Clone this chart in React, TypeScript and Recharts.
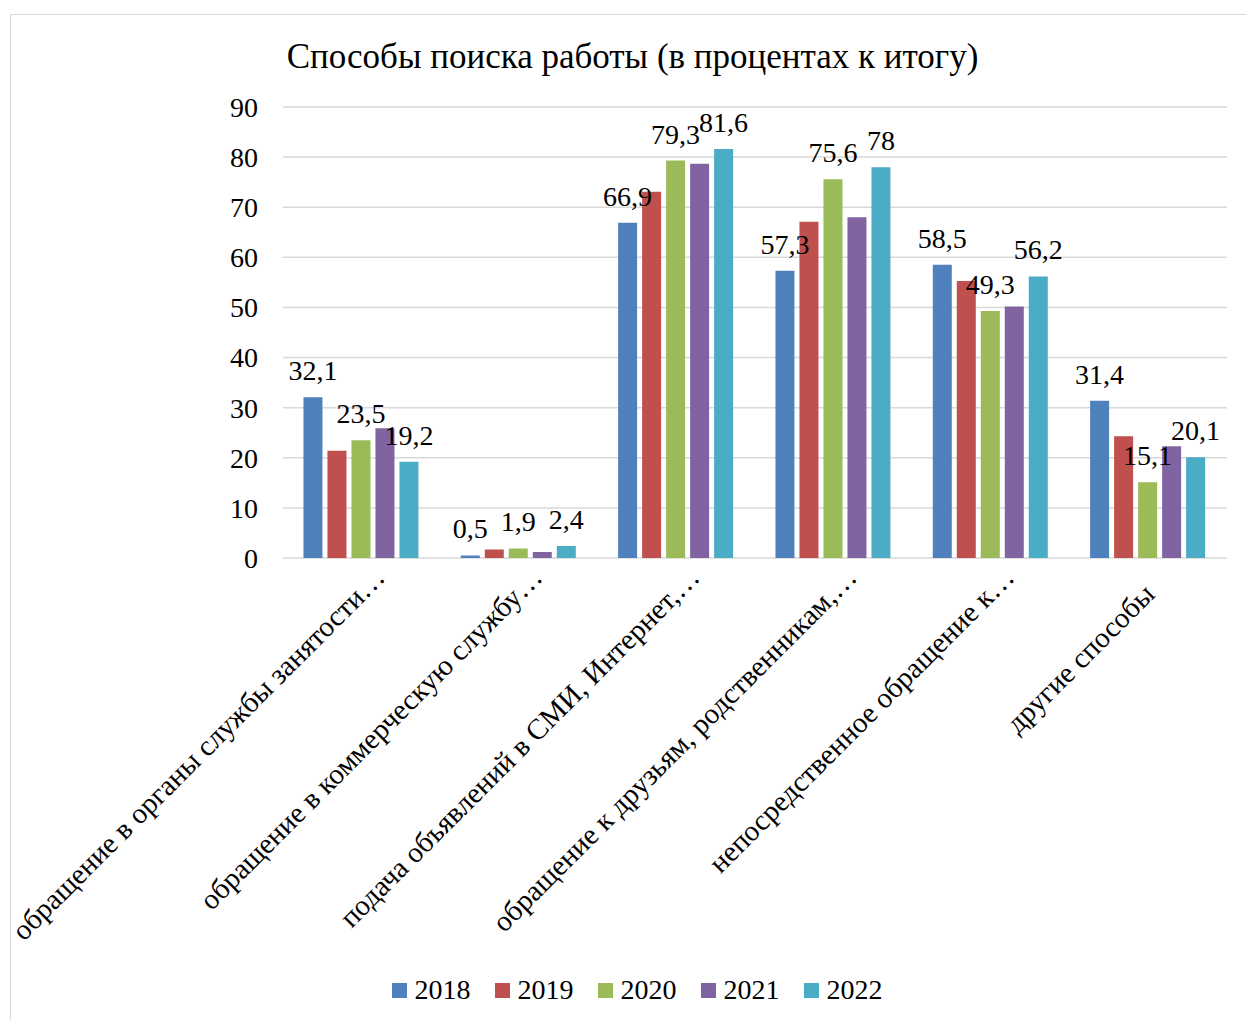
import React from 'react';
import { BarChart, Bar, XAxis, YAxis, CartesianGrid, Legend, LabelList } from 'recharts';

const categories = [
  'обращение в органы службы занятости…',
  'обращение в коммерческую службу…',
  'подача объявлений в СМИ, Интернет,…',
  'обращение к друзьям, родственникам,…',
  'непосредственное обращение к…',
  'другие способы',
];
const years = ['2018', '2019', '2020', '2021', '2022'];
const y2018 = [32.1, 0.5, 66.9, 57.3, 58.5, 31.4];
const y2019 = [21.4, 1.7, 73.1, 67.1, 55.3, 24.3];
const y2020 = [23.5, 1.9, 79.3, 75.6, 49.3, 15.1];
const y2021 = [25.9, 1.2, 78.7, 68.0, 50.2, 22.3];
const y2022 = [19.2, 2.4, 81.6, 78, 56.2, 20.1];
const yTicks = [0, 10, 20, 30, 40, 50, 60, 70, 80, 90];
const colors = ['#4F81BD', '#C0504D', '#9BBB59', '#8064A2', '#4BACC6'];
// years that carry value labels in the original
const labelled = ['2018', '2020', '2022'];

const series = [y2018, y2019, y2020, y2021, y2022];
const data = categories.map((name, i) => {
  const row: any = { name };
  years.forEach((yr, k) => { row[yr] = series[k][i]; });
  return row;
});

const FONT = '"Liberation Serif", "Times New Roman", serif';

const XTick = (props: any) => {
  const { x, y, payload } = props;
  // truncated labels sit further along the diagonal
  const d = String(payload.value).endsWith('…') ? 24 : 0;
  const ax = x + 8 + d * 0.707;
  const ay = y + 36 - d * 0.707;
  return (
    <g transform={`translate(${ax},${ay})`}>
      <text textAnchor="end" transform="rotate(-45)" fontSize={29} fontFamily={FONT} fill="#000">
        {payload.value}
      </text>
    </g>
  );
};

const LegendContent = (props: any) => {
  const { payload } = props;
  return (
    <div style={{ display: 'flex', justifyContent: 'center', paddingLeft: 17, fontFamily: FONT, fontSize: 28, color: '#000' }}>
      {payload.map((p: any) => (
        <div key={p.value} style={{ display: 'flex', alignItems: 'center', margin: '0 12px' }}>
          <span style={{ width: 15, height: 15, background: p.color, display: 'inline-block', marginRight: 8 }} />
          <span>{p.value}</span>
        </div>
      ))}
    </div>
  );
};

const fmt = (v: any) => String(v).replace('.', ',');

export default function App() {
  return (
    <div style={{ position: 'fixed', left: 10, top: 14, width: 1236, height: 1006, borderLeft: '1px solid #d9d9d9', borderTop: '1px solid #d9d9d9', background: '#fff' }}>
      <div style={{ position: 'absolute', left: 0, width: 1235, paddingLeft: 8, boxSizing: 'border-box', top: 22, textAlign: 'center', fontFamily: FONT, fontSize: 35, lineHeight: 'normal', color: '#000' }}>
        Способы поиска работы (в процентах к итогу)
      </div>
      <BarChart width={1235} height={1005} data={data} barCategoryGap="13%" barGap={5}
        style={{ overflow: 'visible' }}
        margin={{ top: 92, right: 19, left: 212, bottom: 14 }}>
        <CartesianGrid vertical={false} stroke="#d9d9d9" strokeWidth={1.5} />
        <XAxis dataKey="name" interval={0} tick={<XTick />} tickLine={false} axisLine={false} tickSize={0} height={416} />
        <YAxis domain={[0, 90]} ticks={yTicks} width={60} tickLine={false} axisLine={false} tickSize={0} tickMargin={25}
          tick={{ fontSize: 28, fontFamily: FONT, fill: '#000' }} />
        <Legend content={<LegendContent />} wrapperStyle={{ left: 0, width: 1235 }} />
        {years.map((yr, k) => (
          <Bar key={yr} dataKey={yr} fill={colors[k]} isAnimationActive={false}>
            {labelled.includes(yr) && (
              <LabelList dataKey={yr} position="top" offset={17} formatter={fmt}
                style={{ fontSize: 28, fontFamily: FONT, fill: '#000' }} />
            )}
          </Bar>
        ))}
      </BarChart>
    </div>
  );
}
